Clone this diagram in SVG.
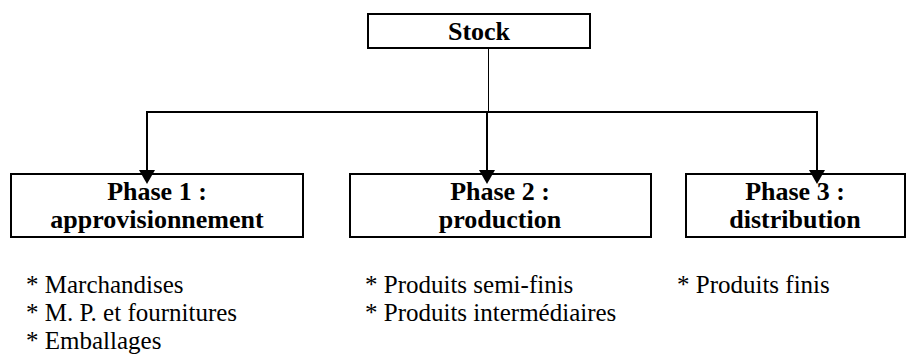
<svg xmlns="http://www.w3.org/2000/svg" width="923" height="358" viewBox="0 0 923 358">
<style>
.box{fill:#fff;stroke:#000;stroke-width:2}
.t{font-family:"Liberation Serif","Times New Roman",serif;font-weight:bold;font-size:26px;text-anchor:middle;fill:#000}
.l{font-family:"Liberation Serif","Times New Roman",serif;font-size:25px;fill:#000}
.c{fill:none;stroke:#000;stroke-width:2}
.ah{fill:#000}
</style>
<g id="n-stock">
<rect class="box" x="368" y="14" width="222" height="34"/>
<text class="t" x="479" y="40">Stock</text>
</g>
<g id="n-phase1">
<rect class="box" x="11" y="174" width="292" height="63"/>
<text class="t" x="157" y="200">Phase 1 :</text>
<text class="t" x="157" y="228">approvisionnement</text>
</g>
<g id="n-phase2">
<rect class="box" x="350" y="174" width="301" height="63"/>
<text class="t" x="500" y="200">Phase 2 :</text>
<text class="t" x="500" y="228">production</text>
</g>
<g id="n-phase3">
<rect class="box" x="686" y="174" width="219" height="63"/>
<text class="t" x="795" y="200">Phase 3 :</text>
<text class="t" x="795" y="228">distribution</text>
</g>
<g id="connectors">
<line x1="488.5" y1="48" x2="488.5" y2="112" stroke="#000" stroke-width="1"/>
<line class="c" x1="147" y1="112" x2="818" y2="112"/>
<path d="M147,111 V170" class="c"/>
<path d="M487,111 V170" class="c"/>
<path d="M817,111 V170" class="c"/>
<polygon class="ah" points="139,170 155,170 147,184"/>
<polygon class="ah" points="479,170 495,170 487,184"/>
<polygon class="ah" points="809,170 825,170 817,184"/>
</g>
<g id="lists">
<text class="l" x="26" y="293">* Marchandises</text>
<text class="l" x="26" y="321">* M. P. et fournitures</text>
<text class="l" x="26" y="349">* Emballages</text>
<text class="l" x="365" y="293">* Produits semi-finis</text>
<text class="l" x="365" y="321">* Produits intermédiaires</text>
<text class="l" x="677" y="293">* Produits finis</text>
</g>
</svg>
